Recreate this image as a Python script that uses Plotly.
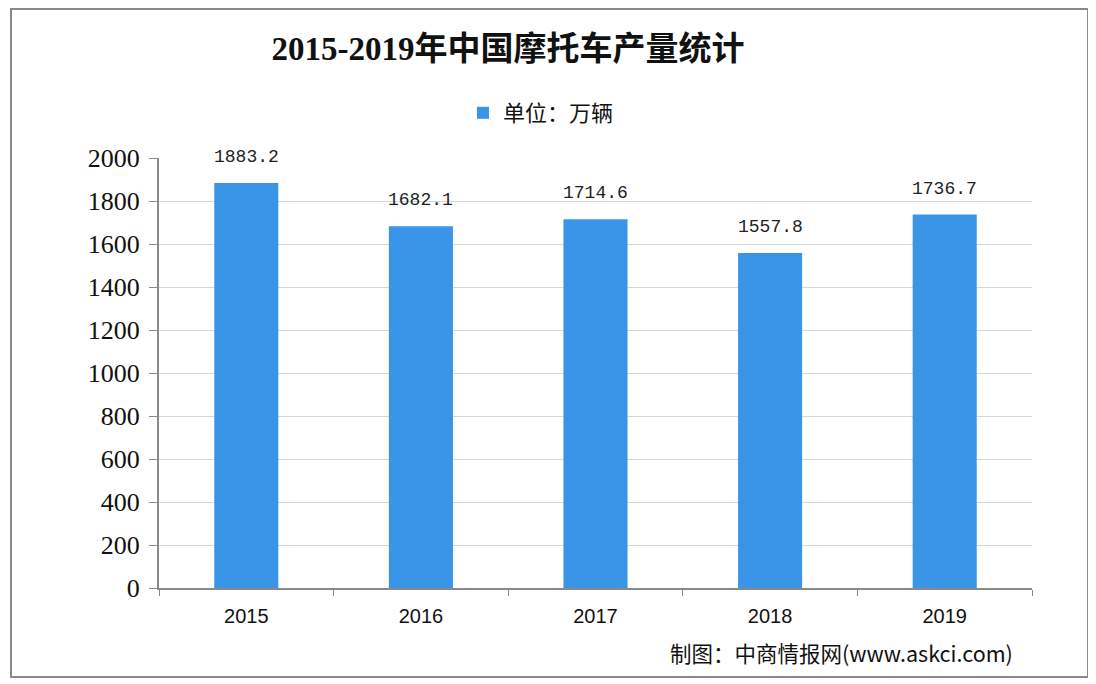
import plotly.graph_objects as go

years = ["2015", "2016", "2017", "2018", "2019"]
production = [1883.2, 1682.1, 1714.6, 1557.8, 1736.7]
y_ticks = [0, 200, 400, 600, 800, 1000, 1200, 1400, 1600, 1800, 2000]
title_text = "2015-2019年中国摩托车产量统计"
series_name = "单位：万辆"
source_text = "制图：中商情报网(www.askci.com)"

# page has an 8px body margin, so the figure is offset by 8px
OFF = 8
W, H = 1096 - OFF, 684 - OFF
L, R, T = 159 - OFF, 64, 158 - OFF
B = H - (588 - OFF)
pw, ph = W - L - R, H - T - B

def px_x(x):
    return (x - OFF - L) / pw

def px_y(y):
    return (H - B - (y - OFF)) / ph

fig = go.Figure()
fig.add_trace(go.Bar(
    x=years, y=production, name=series_name,
    marker=dict(color="#3a95e8", line=dict(width=0)),
    showlegend=True,
))

for i, v in enumerate(production):
    fig.add_annotation(
        x=i, y=v, text=f"{v:.1f}", showarrow=False,
        yanchor="middle", yshift=26,
        font=dict(family="Liberation Mono, DejaVu Sans Mono, monospace", size=18, color="#222"),
    )

fig.add_annotation(
    xref="paper", yref="paper", x=px_x(668), y=px_y(652),
    xanchor="left", yanchor="middle", showarrow=False,
    text=source_text,
    font=dict(family="Noto Sans CJK SC, Liberation Sans, sans-serif", size=21.5, color="#111"),
)

fig.add_shape(
    type="rect", xref="paper", yref="paper",
    x0=px_x(11), x1=px_x(1088), y0=px_y(677), y1=px_y(9),
    line=dict(color="#8a8a8a", width=2), fillcolor="rgba(0,0,0,0)", layer="below",
)

fig.update_layout(
    width=W, height=H,
    margin=dict(l=L, r=R, t=T, b=B, autoexpand=False),
    paper_bgcolor="white", plot_bgcolor="white",
    bargap=0.633,
    title=dict(
        text=f"<b>{title_text}</b>", x=(508 - OFF) / W, xanchor="center",
        y=1 - (48 - OFF) / H, yanchor="middle",
        font=dict(family="Liberation Serif, Noto Sans CJK SC, serif", size=33, color="#111"),
    ),
    legend=dict(
        orientation="h", x=px_x(463), y=px_y(113), xanchor="left", yanchor="middle",
        font=dict(family="Noto Sans CJK SC, sans-serif", size=22, color="#111"),
        bgcolor="rgba(0,0,0,0)",
    ),
    xaxis=dict(
        type="category", range=[-0.5, 4.5], showgrid=False, automargin=False,
        showline=True, linecolor="#8a8a8a", linewidth=2,
        ticks="outside", tickson="boundaries", ticklen=6, tickcolor="#8a8a8a",
        tickfont=dict(family="Liberation Sans, Arial, sans-serif", size=20, color="#111"),
        tickangle=0, ticklabelstandoff=9,
    ),
    yaxis=dict(
        range=[0, 2000], tickvals=y_ticks, automargin=False,
        showgrid=True, gridcolor="#d6d6d6", gridwidth=1,
        showline=True, linecolor="#8a8a8a", linewidth=2,
        ticks="outside", ticklen=8, tickcolor="#8a8a8a",
        tickfont=dict(family="Liberation Serif, serif", size=26, color="#111"),
        zeroline=False, ticklabelstandoff=4,
    ),
)

fig.write_html("out.html")
